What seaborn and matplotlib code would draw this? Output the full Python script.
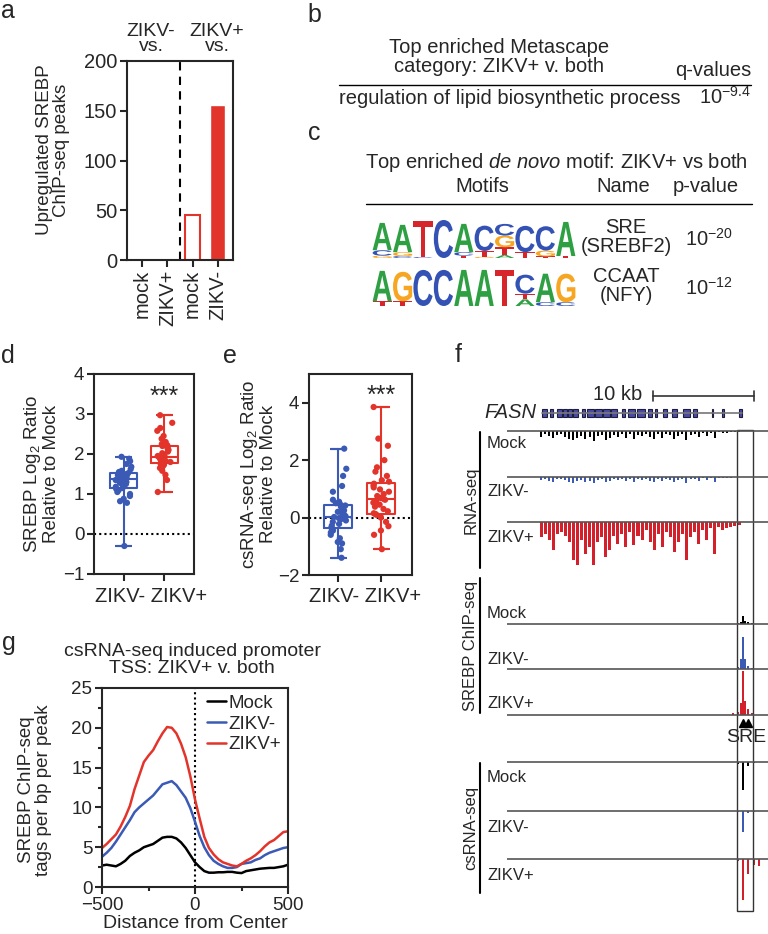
# ================================================================
# 0. Section: IMPORTS
# ================================================================
import numpy as np
import pandas as pd
import matplotlib
matplotlib.use('Agg')
import matplotlib.pyplot as plt
import seaborn as sns

from matplotlib.textpath import TextPath
from matplotlib.patches import PathPatch, Rectangle
from matplotlib.font_manager import FontProperties
from matplotlib.transforms import Affine2D
from matplotlib.ticker import MultipleLocator


# ================================================================
# 1. Section: DATA
# ================================================================
# a: upregulated SREBP ChIP-seq peaks (ZIKV- vs ..., ZIKV+ vs ...)
a_keys = ['ZIKV- vs mock', 'ZIKV- vs ZIKV+', 'ZIKV+ vs mock', 'ZIKV+ vs ZIKV-']
a_ticklabels = ['mock', 'ZIKV+', 'mock', 'ZIKV-']
a_peaks = [0, 0, 45, 156]

# b: Metascape
b_term = 'regulation of lipid biosynthetic process'
b_qvalue = r'10$^{-9.4}$'

# c: de novo motifs, stacks listed bottom -> top as (base, bits)
sre_motif = [
    [('G', 0.12), ('C', 0.28), ('A', 1.4)],
    [('C', 0.10), ('G', 0.20), ('A', 1.4)],
    [('C', 0.05), ('T', 1.85)],
    [('C', 1.95)],
    [('T', 0.12), ('C', 0.18), ('A', 1.45)],
    [('G', 0.06), ('T', 0.30), ('C', 1.3)],
    [('A', 0.15), ('T', 0.40), ('G', 0.6), ('C', 0.6)],
    [('T', 0.30), ('C', 1.35)],
    [('T', 0.08), ('G', 0.30), ('C', 1.25)],
    [('T', 0.10), ('A', 1.75)],
]
nfy_motif = [
    [('T', 0.25), ('A', 1.6)],
    [('T', 0.25), ('G', 1.55)],
    [('C', 1.9)],
    [('C', 1.9)],
    [('A', 1.9)],
    [('A', 1.9)],
    [('T', 1.9)],
    [('A', 0.35), ('T', 0.30), ('C', 1.0)],
    [('C', 0.20), ('A', 1.5)],
    [('C', 0.20), ('G', 1.5)],
]
motif_names = ['SRE\n(SREBF2)', 'CCAAT\n(NFY)']
motif_pvalues = [r'10$^{-20}$', r'10$^{-12}$']

# d: SREBP log2 ratio relative to mock
box_groups = ['ZIKV-', 'ZIKV+']
d_zikv_neg = [-0.30, 0.78, 0.82, 0.88, 0.95, 1.00, 1.05, 1.10, 1.13, 1.15, 1.18, 1.22,
              1.25, 1.28, 1.30, 1.33, 1.35, 1.37, 1.38, 1.40, 1.41, 1.43, 1.45, 1.47,
              1.50, 1.52, 1.54, 1.55, 1.58, 1.62, 1.68, 1.75, 1.82, 1.88, 1.93]
d_zikv_pos = [1.05, 1.35, 1.48, 1.58, 1.65, 1.70, 1.73, 1.75, 1.76, 1.78, 1.80, 1.82,
              1.84, 1.86, 1.88, 1.90, 1.91, 1.93, 1.95, 1.98, 2.02, 2.06, 2.10, 2.14,
              2.18, 2.20, 2.22, 2.25, 2.30, 2.38, 2.45, 2.58, 2.65, 2.78, 2.97]

# e: csRNA-seq log2 ratio relative to mock
e_zikv_neg = [-1.40, -1.10, -0.90, -0.85, -0.72, -0.60, -0.52, -0.45, -0.40, -0.35, -0.28,
              -0.22, -0.15, -0.10, -0.05, -0.02, 0.00, 0.02, 0.05, 0.10, 0.15, 0.20, 0.25,
              0.30, 0.38, 0.42, 0.45, 0.50, 0.55, 0.62, 0.90, 1.10, 1.45, 1.70, 2.40]
e_zikv_pos = [-1.10, -0.60, -0.45, -0.30, -0.15, 0.00, 0.05, 0.10, 0.12, 0.15, 0.22, 0.30,
              0.38, 0.45, 0.52, 0.58, 0.62, 0.65, 0.68, 0.75, 0.82, 0.90, 0.98, 1.05,
              1.12, 1.18, 1.25, 1.30, 1.45, 1.60, 1.75, 2.00, 2.50, 2.75, 3.85]

# f: FASN locus (kb), exons and browser tracks
fasn_span = [3.47, 23.27]
fasn_exons = [(3.47, 3.96), (4.26, 4.55), (4.95, 5.45), (5.54, 5.94), (6.04, 6.44),
              (6.53, 7.03), (7.43, 7.72), (7.92, 8.60), (8.75, 9.45), (9.55, 10.20),
              (10.30, 10.89), (11.39, 11.68), (11.98, 12.67), (12.87, 13.66),
              (13.96, 14.36), (14.65, 14.85), (15.45, 15.84), (16.34, 16.83),
              (17.43, 18.12), (18.42, 18.81), (20.30, 20.40), (21.29, 21.49), (22.97, 23.27)]
rna_bins_kb = 3.37 + 0.4 * np.arange(50)
rna_mock = [6, 3, 5, 7, 4, 3, 6, 8, 9, 7, 5, 8, 6, 10, 5, 4, 9, 7, 4, 6, 3, 7, 3, 8, 4,
            5, 3, 6, 8, 3, 7, 3, 4, 8, 5, 3, 9, 4, 3, 6, 2, 5, 2, 7, 1, 2, 2, 1, 1, 1]
rna_zikv_neg = [3, 2, 4, 5, 2, 2, 3, 5, 6, 4, 3, 5, 4, 6, 3, 2, 5, 4, 2, 3, 2, 4, 2, 5, 2,
                3, 2, 4, 5, 2, 4, 2, 3, 5, 3, 2, 6, 2, 2, 4, 1, 3, 1, 5, 1, 1, 1, 1, 0, 0]
rna_zikv_pos = [15, 12, 18, 28, 12, 10, 14, 20, 38, 43, 18, 32, 25, 43, 20, 15, 35, 28, 14,
                22, 12, 25, 10, 23, 14, 18, 8, 20, 28, 12, 25, 10, 15, 30, 20, 12, 38, 15,
                10, 22, 8, 18, 6, 32, 5, 8, 6, 5, 4, 3]
chip_kb = [22.38, 22.87, 23.17, 23.37, 23.56, 23.86, 24.26]
chip_mock = [0, 1, 2, 8, 3, 2, 1]
chip_zikv_neg = [0, 2, 10, 32, 10, 3, 1]
chip_zikv_pos = [2, 3, 12, 44, 14, 6, 2]
cs_kb = [22.87, 23.37, 23.86, 24.47, 24.97]
cs_mock = [2, 28, 4, 1, 0]
cs_zikv_neg = [1, 21, 2, 1, 0]
cs_zikv_pos = [2, 41, 15, 6, 7]
sre_sites_kb = [23.34, 23.89]

# g: SREBP ChIP-seq aggregate at induced promoters
g_distance = list(range(-500, 501, 25))
g_mock = [2.7, 2.8, 2.7, 2.6, 2.9, 3.3, 3.9, 4.3, 4.6, 5.0, 5.2, 5.4, 5.8, 6.2, 6.3, 6.3,
          6.1, 5.6, 4.9, 4.0, 3.1, 2.5, 2.0, 1.8, 1.8, 1.85, 1.85, 1.9, 1.9, 1.8, 1.75,
          2.0, 2.1, 2.2, 2.3, 2.35, 2.4, 2.4, 2.5, 2.6, 2.8]
g_zikv_neg = [3.8, 4.3, 4.9, 5.7, 6.6, 7.5, 8.4, 9.4, 10.0, 10.5, 11.0, 11.5, 12.2, 12.9,
              13.1, 13.3, 12.8, 12.0, 11.2, 9.9, 8.2, 6.4, 5.0, 4.0, 3.3, 2.9, 2.6, 2.4,
              2.4, 2.5, 2.9, 3.0, 3.1, 3.4, 3.6, 4.0, 4.3, 4.5, 4.7, 4.9, 5.0]
g_zikv_pos = [4.9, 5.4, 6.0, 6.6, 7.6, 8.8, 10.2, 12.3, 14.0, 15.7, 16.5, 17.2, 18.3, 19.3,
              20.1, 20.0, 19.3, 18.0, 16.3, 13.9, 11.0, 8.6, 6.3, 4.9, 4.1, 3.5, 3.1, 2.9,
              2.7, 2.6, 2.9, 3.3, 3.6, 4.0, 4.5, 5.1, 5.6, 5.9, 6.4, 6.9, 7.0]


# ================================================================
# 2. Section: STYLE
# ================================================================
W, H = 768, 934
BLUE = '#3a5ab5'
RED = '#e3342b'
TRACK_RED = '#d4202a'
LOGO_COLORS = {'A': '#2ea043', 'C': '#3452b4', 'G': '#f6a623', 'T': '#d7262b'}

sns.set_style('ticks')
plt.rcParams['font.family'] = ['Liberation Sans', 'DejaVu Sans']
plt.rcParams['mathtext.fontset'] = 'custom'
plt.rcParams['mathtext.rm'] = 'Liberation Sans'
plt.rcParams['mathtext.it'] = 'Liberation Sans:italic'
plt.rcParams['mathtext.bf'] = 'Liberation Sans:bold'
plt.rcParams['axes.linewidth'] = 1.5


def px_axes(fig, left, top, right, bottom, **kw):
    return fig.add_axes([left / W, 1 - bottom / H, (right - left) / W, (bottom - top) / H], **kw)


def style_axes(ax, labelsize=13.5):
    ax.tick_params(width=1.5, length=5, labelsize=labelsize, pad=2)
    for sp in ax.spines.values():
        sp.set_linewidth(1.5)


def draw_logo(ax, motif):
    fp = FontProperties(family='Liberation Sans', weight='bold')
    for i, stack in enumerate(motif):
        y = 0
        for base, bits in stack:
            tp = TextPath((0, 0), base, size=1, prop=fp)
            bb = tp.get_extents()
            tr = (Affine2D().translate(-bb.x0, -bb.y0)
                  .scale(0.94 / bb.width, bits / bb.height)
                  .translate(i + 0.03, y))
            ax.add_patch(PathPatch(tr.transform_path(tp), fc=LOGO_COLORS[base], ec='none'))
            y += bits
    ax.set_xlim(0, len(motif))
    ax.set_ylim(0, 2)
    ax.axis('off')


def plot_box_panel(ax, neg, pos, star_y):
    df = pd.DataFrame({'group': [box_groups[0]] * len(neg) + [box_groups[1]] * len(pos),
                       'ratio': neg + pos})
    ax.axhline(0, ls=(0, (1, 1.5)), color='k', lw=1.5, zorder=0)
    sns.boxplot(data=df, x='group', y='ratio', hue='group', palette=[BLUE, RED],
                fill=False, whis=(0, 100), width=0.65, linewidth=1.5,
                showfliers=False, legend=False, ax=ax)
    # whisker caps at min / max
    for i, (vals, col) in enumerate([(neg, BLUE), (pos, RED)]):
        ax.hlines([min(vals), max(vals)], i - 0.2, i + 0.2, color=col, lw=1.5, zorder=3)
    sns.stripplot(data=df, x='group', y='ratio', hue='group', palette=[BLUE, RED],
                  jitter=0.2, size=4.5, legend=False, ax=ax)
    ax.text(1, star_y, '***', ha='center', va='center', fontsize=18)
    ax.set_xlabel('')
    ax.set_ylabel('')
    ax.set_xticklabels([])
    style_axes(ax)


# ================================================================
# 3. Section: FIGURE
# ================================================================
np.random.seed(3)
fig = plt.figure(figsize=(W / 100, H / 100), dpi=100)
canvas = fig.add_axes([0, 0, 1, 1], zorder=-1)
canvas.set_xlim(0, W)
canvas.set_ylim(H, 0)
canvas.axis('off')

panel_labels = {'a': (8, 18), 'b': (314, 22), 'c': (314, 140), 'd': (8, 363),
                'e': (230, 363), 'f': (458, 362), 'g': (9, 650)}
for lab, (x, y) in panel_labels.items():
    canvas.text(x, y, lab, fontsize=18, ha='center', va='baseline')

# ---- a
ax_a = px_axes(fig, 127, 61, 233, 260)
df_a = pd.DataFrame({'key': a_keys, 'peaks': a_peaks})
sns.barplot(data=df_a, x='key', y='peaks', hue='key', palette=[RED] * 4, width=0.6,
            saturation=1, legend=False, ax=ax_a)
ax_a.patches[2].set_facecolor('white')
ax_a.patches[2].set_edgecolor(RED)
ax_a.patches[2].set_linewidth(1.5)
ax_a.axvline(1.5, ls=(0, (4, 3)), color='k', lw=1.5)
ax_a.set_xlim(-0.6, 3.6)
ax_a.set_ylim(0, 200)
ax_a.set_yticks(range(0, 201, 50))
ax_a.set_xticks(range(4))
ax_a.set_xticklabels(a_ticklabels, rotation=90)
ax_a.set_xlabel('')
ax_a.set_ylabel('')
style_axes(ax_a, 14.5)
canvas.text(53, 150, 'Upregulated SREBP\nChIP-seq peaks', ha='center', va='center',
            rotation=90, fontsize=13.5, linespacing=1.0)
canvas.text(151, 39, 'ZIKV-\nvs.', ha='center', va='center', fontsize=14, linespacing=0.85)
canvas.text(217, 39, 'ZIKV+\nvs.', ha='center', va='center', fontsize=14, linespacing=0.85)

# ---- b
canvas.text(499, 57, 'Top enriched Metascape\ncategory: ZIKV+ v. both', ha='center',
            va='center', fontsize=14.5, linespacing=1.05)
canvas.text(751, 70, 'q-values', ha='right', va='center', fontsize=14.5)
canvas.plot([339, 751], [85, 85], color='k', lw=1)
canvas.text(339, 98, b_term, ha='left', va='center', fontsize=14.5)
canvas.text(751, 97, b_qvalue, ha='right', va='center', fontsize=14.5)

# ---- c
canvas.text(556, 162, r'Top enriched $\mathit{de\ novo}$ motif: ZIKV+ vs both', ha='center',
            va='center', fontsize=14.5)
canvas.text(482, 187, 'Motifs', ha='center', va='center', fontsize=14.5)
canvas.text(623, 187, 'Name', ha='center', va='center', fontsize=14.5)
canvas.text(706, 187, 'p-value', ha='center', va='center', fontsize=14.5)
canvas.plot([366, 752], [204, 204], color='k', lw=1)
for motif, top, bottom in [(sre_motif, 219, 258), (nfy_motif, 268, 306)]:
    draw_logo(px_axes(fig, 372, top, 576, bottom), motif)
for name, pval, y in zip(motif_names, motif_pvalues, [237, 286]):
    canvas.text(626, y, name, ha='center', va='center', fontsize=14.5, linespacing=1.0)
    canvas.text(685, y + 2, pval, ha='left', va='center', fontsize=14.5)

# ---- d
ax_d = px_axes(fig, 94, 374, 194, 574)
plot_box_panel(ax_d, d_zikv_neg, d_zikv_pos, 3.42)
ax_d.set_ylim(-1, 4)
ax_d.set_xlim(-0.72, 1.72)
canvas.text(41, 474, 'SREBP Log$_2$ Ratio\nRelative to Mock', ha='center', va='center',
            rotation=90, fontsize=13.5, linespacing=1.0)
canvas.text(151, 597, ' '.join(box_groups), ha='center', va='center', fontsize=14.5)

# ---- e
ax_e = px_axes(fig, 309, 374, 412, 575)
plot_box_panel(ax_e, e_zikv_neg, e_zikv_pos, 4.25)
ax_e.set_ylim(-2, 5)
ax_e.set_yticks([-2, 0, 2, 4])
ax_e.set_xlim(-0.68, 1.72)
canvas.text(258, 474, 'csRNA-seq Log$_2$ Ratio\nRelative to Mock', ha='center', va='center',
            rotation=90, fontsize=13.5, linespacing=1.0)
canvas.text(365, 597, ' '.join(box_groups), ha='center', va='center', fontsize=14.5)

# ---- g
ax_g = px_axes(fig, 102, 688, 288, 887)
df_g = pd.DataFrame({
    'distance': g_distance * 3,
    'tags': g_mock + g_zikv_neg + g_zikv_pos,
    'condition': ['Mock'] * len(g_mock) + ['ZIKV-'] * len(g_zikv_neg) + ['ZIKV+'] * len(g_zikv_pos),
})
ax_g.axvline(0, ls=(0, (1, 1.5)), color='k', lw=1.5, zorder=0)
sns.lineplot(data=df_g, x='distance', y='tags', hue='condition',
             palette={'Mock': 'black', 'ZIKV-': BLUE, 'ZIKV+': RED}, linewidth=1.8, ax=ax_g)
ax_g.set_xlim(-500, 500)
ax_g.set_ylim(0, 25)
ax_g.set_xticks([-500, 0, 500])
ax_g.xaxis.set_minor_locator(MultipleLocator(250))
ax_g.yaxis.set_minor_locator(MultipleLocator(2.5))
ax_g.tick_params(which='minor', width=1.5, length=3)
ax_g.set_xlabel('Distance from Center', fontsize=14, labelpad=1)
ax_g.set_ylabel('')
ax_g.legend(frameon=False, loc='upper right', fontsize=13.5, handlelength=1.0,
            handletextpad=0.15, labelspacing=0.2, borderaxespad=0.15, borderpad=0.2)
style_axes(ax_g)
canvas.text(35, 790, 'SREBP ChIP-seq\ntags per bp per peak', ha='center', va='center',
            rotation=90, fontsize=13.5, linespacing=1.0)
canvas.text(192, 660, 'csRNA-seq induced promoter\nTSS: ZIKV+ v. both', ha='center',
            va='center', fontsize=14, linespacing=1.05)

# ---- f
ax_f = px_axes(fig, 507, 380, 768, 915)
ax_f.set_xlim(0, 25.84)
ax_f.set_ylim(915, 380)
ax_f.axis('off')

# gene model and scale bar
ax_f.plot(fasn_span, [413, 413], color='#777777', lw=1.2)
for s, e in fasn_exons:
    ax_f.add_patch(Rectangle((s, 409), e - s, 8, fc='#4a4aa6', ec='#1c1c3c', lw=0.8))
ax_f.plot([14.46, 24.46], [396, 396], color='#333333', lw=1.2)
for xb in [14.46, 24.46]:
    ax_f.plot([xb, xb], [391, 401], color='#333333', lw=1.2)
canvas.text(618, 395, '10 kb', ha='center', va='center', fontsize=14.5)
canvas.text(536, 412, 'FASN', ha='right', va='center', fontsize=14.5, style='italic')

# tracks: (baseline, x, values, colour, direction, bar width)
tracks = [
    (431, rna_bins_kb, rna_mock, 'black', 1, 0.2),
    (477, rna_bins_kb, rna_zikv_neg, BLUE, 1, 0.2),
    (522, rna_bins_kb, rna_zikv_pos, TRACK_RED, 1, 0.3),
    (624, chip_kb, chip_mock, 'black', -1, 0.15),
    (669, chip_kb, chip_zikv_neg, BLUE, -1, 0.15),
    (715, chip_kb, chip_zikv_pos, TRACK_RED, -1, 0.15),
    (762, cs_kb, cs_mock, 'black', 1, 0.15),
    (811, cs_kb, cs_zikv_neg, BLUE, 1, 0.15),
    (859, cs_kb, cs_zikv_pos, TRACK_RED, 1, 0.15),
]
for base, xs, vals, col, sign, w in tracks:
    ax_f.axhline(base, color='#555555', lw=1.2)
    ax_f.bar(xs, [sign * v for v in vals], width=w, bottom=base, color=col, linewidth=0)

ax_f.add_patch(Rectangle((22.77, 430), 1.59, 481, fill=False, ec='#333333', lw=1))
ax_f.plot(sre_sites_kb, [723, 723], ls='none', marker='^', color='black', ms=6)
canvas.text(746, 738, 'SRE', ha='center', va='center', fontsize=14)

# group labels
track_labels = [('Mock', 444), ('ZIKV-', 491), ('ZIKV+', 537),
                ('Mock', 613), ('ZIKV-', 660), ('ZIKV+', 703),
                ('Mock', 777), ('ZIKV-', 827), ('ZIKV+', 875)]
for lab, y in track_labels:
    canvas.text(487, y, lab, ha='left', va='center', fontsize=12)
for name, top, bottom in [('RNA-seq', 432, 568), ('SREBP ChIP-seq', 578, 713),
                          ('csRNA-seq', 763, 893)]:
    canvas.plot([480, 480], [top, bottom], color='k', lw=1.5)
    canvas.text(471, (top + bottom) / 2, name, ha='center', va='center',
                rotation=90, fontsize=12)

fig.savefig('out.png', dpi=100)
